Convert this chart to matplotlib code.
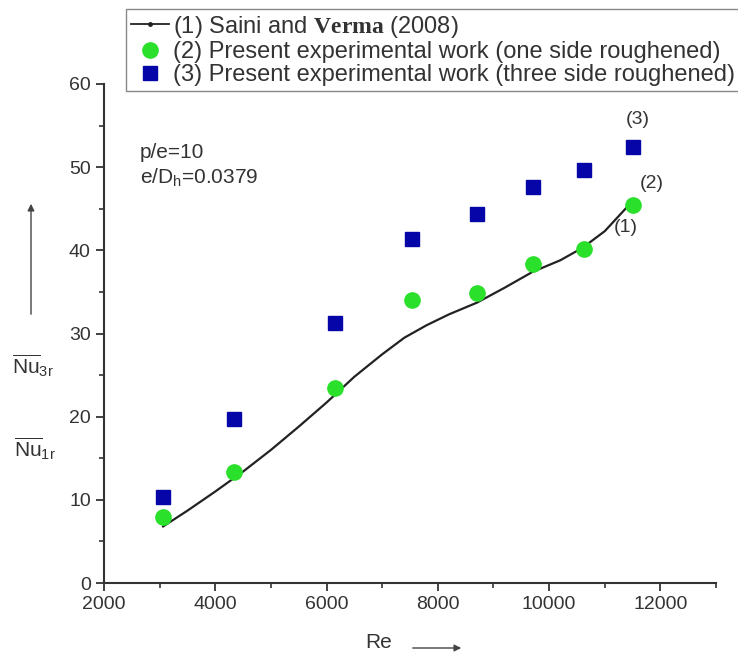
import matplotlib
matplotlib.use("Agg")
import matplotlib.pyplot as plt
from matplotlib.lines import Line2D
from matplotlib.ticker import MultipleLocator

plt.rcParams['font.family'] = ['Liberation Sans', 'DejaVu Sans']
plt.rcParams['mathtext.fontset'] = 'custom'
plt.rcParams['mathtext.rm'] = 'Liberation Sans'
plt.rcParams['mathtext.it'] = 'Liberation Sans'
plt.rcParams['mathtext.bf'] = 'Liberation Serif:bold'

# data
re_exp = [3063, 4342, 6144, 7532, 8703, 9712, 10630, 11514]
nu_one_side = [7.9, 13.3, 23.4, 34.0, 34.9, 38.4, 40.2, 45.4]
nu_three_side = [10.3, 19.7, 31.3, 41.4, 44.4, 47.6, 49.7, 52.4]

# Saini and Verma (2008) curve
re_saini = [3063, 3500, 4000, 4500, 5000, 5500, 6000, 6500, 7000, 7400,
            7800, 8200, 8700, 9200, 9700, 10200, 10600, 11000, 11387]
nu_saini = [6.8, 8.7, 11.0, 13.4, 16.0, 18.8, 21.7, 24.8, 27.5, 29.5,
            31.0, 32.3, 33.7, 35.5, 37.4, 38.8, 40.3, 42.3, 45.1]

W, H = 738, 656
txt = '#333333'
green = '#2be02b'
blue = '#0505a8'


def fx(x):
    return x / W


def fy(y):
    return 1 - y / H


fig = plt.figure(figsize=(W / 100, H / 100), dpi=100)
ax = fig.add_axes([fx(104), fy(583), (716 - 104) / W, (583 - 84) / H])

ax.plot(re_saini, nu_saini, color='#222222', lw=1.6)
ax.plot(re_exp, nu_one_side, 'o', color=green, ms=11, mec=green)
ax.plot(re_exp, nu_three_side, 's', color=blue, ms=9.5, mec=blue)

ax.set_xlim(2000, 13000)
ax.set_ylim(0, 60)
ax.xaxis.set_major_locator(MultipleLocator(2000))
ax.xaxis.set_minor_locator(MultipleLocator(1000))
ax.yaxis.set_major_locator(MultipleLocator(10))
ax.yaxis.set_minor_locator(MultipleLocator(5))
for s in ['top', 'right']:
    ax.spines[s].set_visible(False)
for s in ['left', 'bottom']:
    ax.spines[s].set_linewidth(1.5)
    ax.spines[s].set_color('#333333')
ax.tick_params(which='major', direction='out', length=6, width=1.3, colors='#333333',
               labelsize=14, labelcolor=txt)
ax.tick_params(which='minor', direction='out', length=3.5, width=1.2, colors='#333333')

# text inside the plot
fig.text(fx(140), fy(153), 'p/e=10', fontsize=15, color=txt, va='center')
fig.text(fx(140), fy(178), r'e/D$_\mathrm{h}$=0.0379', fontsize=15, color=txt, va='center')
fig.text(fx(638), fy(120), '(3)', fontsize=14, color=txt, ha='center', va='center')
fig.text(fx(652), fy(183), '(2)', fontsize=14, color=txt, ha='center', va='center')
fig.text(fx(626), fy(228), '(1)', fontsize=14, color=txt, ha='center', va='center')

# axis labels with arrows
fig.text(fx(379), fy(643), 'Re', fontsize=15, color=txt, ha='center', va='center')
fig.add_artist(plt.Annotation('', xy=(fx(464), fy(648)), xytext=(fx(410), fy(648)),
                              xycoords='figure fraction', textcoords='figure fraction',
                              arrowprops=dict(arrowstyle='-|>', color='#444444', lw=1,
                                              mutation_scale=10)))
fig.add_artist(plt.Annotation('', xy=(fx(31), fy(201)), xytext=(fx(31), fy(317)),
                              xycoords='figure fraction', textcoords='figure fraction',
                              arrowprops=dict(arrowstyle='-|>', color='#444444', lw=1,
                                              mutation_scale=10)))
fig.text(fx(33), fy(366), r'$\overline{\mathrm{Nu}}_{3r}$', fontsize=15, color=txt,
         ha='center', va='center')
fig.text(fx(35), fy(449), r'$\overline{\mathrm{Nu}}_{1r}$', fontsize=15, color=txt,
         ha='center', va='center')

handles = [
    Line2D([], [], color='#222222', lw=1.3, marker='o', ms=2.5),
    Line2D([], [], ls='none', marker='o', color=green, ms=11),
    Line2D([], [], ls='none', marker='s', color=blue, ms=9.5),
]
labels = [
    r'(1) Saini and $\mathbf{Verma}$ (2008)',
    '(2) Present experimental work (one side roughened)',
    '(3) Present experimental work (three side roughened)',
]
leg = fig.legend(handles, labels, loc='upper left', bbox_to_anchor=(fx(126), fy(9)),
                 fontsize=17, frameon=True, fancybox=False, framealpha=1,
                 edgecolor='#888888', borderpad=0.2, labelspacing=0.05,
                 handlelength=1.6, handletextpad=0.2, borderaxespad=0)
for t in leg.get_texts():
    t.set_color(txt)

fig.savefig('out.png', dpi=100)
